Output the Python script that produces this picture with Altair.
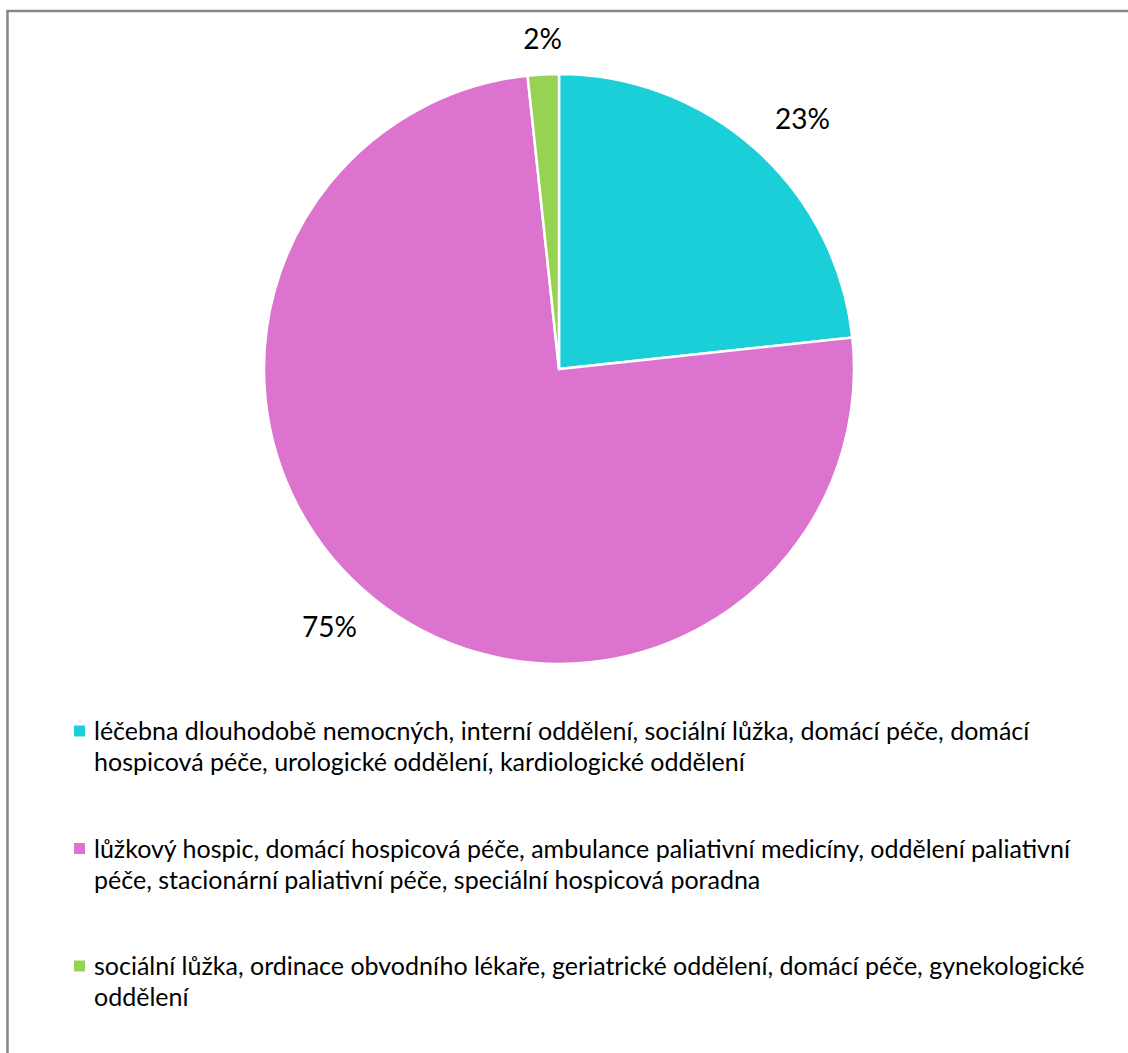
import altair as alt
import pandas as pd

legend_lines = [
    ["léčebna dlouhodobě nemocných, interní oddělení, sociální lůžka, domácí péče, domácí",
     "hospicová péče, urologické oddělení, kardiologické oddělení"],
    ["lůžkový hospic, domácí hospicová péče, ambulance paliativní medicíny, oddělení paliativní",
     "péče, stacionární paliativní péče, speciální hospicová poradna"],
    ["sociální lůžka, ordinace obvodního lékaře, geriatrické oddělení, domácí péče, gynekologické",
     "oddělení"],
]
categories = [" ".join(l) for l in legend_lines]
shares = [23.3, 75.0, 1.7]
colors = ["#1ACFD8", "#DC73CF", "#97D352"]

df = pd.DataFrame({
    "category": categories,
    "label": ["\n".join(l) for l in legend_lines],
    "share": shares,
    "idx": list(range(len(categories))),
})

color_scale = alt.Scale(domain=categories, range=colors)
base = alt.Chart(df)

pie = base.mark_arc(stroke="white", strokeWidth=2.5, radius=295).encode(
    theta=alt.Theta("share:Q", stack=True),
    order=alt.Order("idx:Q"),
    color=alt.Color("category:N", scale=color_scale, legend=None),
    x=alt.value(559),
    y=alt.value(369),
)

labels = base.transform_joinaggregate(
    total="sum(share)"
).transform_window(
    cum="sum(share)", sort=[alt.SortField("idx")], frame=[None, 0]
).transform_calculate(
    mid="(datum.cum - datum.share / 2) / datum.total * 2 * PI + 0.045 * min(1, datum.share / 20)",
    lr="305 + 38 * abs(sin(datum.mid)) + 22 * abs(cos(datum.mid))",
    pct="format(datum.share / 100, '.0%')",
).mark_text(font="Lato", fontSize=28, color="black").encode(
    theta=alt.Theta("mid:Q", scale=None),
    radius=alt.Radius("lr:Q", scale=None),
    text="pct:N",
    x=alt.value(559),
    y=alt.value(369),
)

ypos = alt.Y("idx:O", scale=alt.Scale(type="point", range=[740, 975], padding=0), axis=None)

leg_sq = base.mark_square(size=121, opacity=1, yOffset=-9).encode(
    x=alt.value(79.5),
    y=ypos,
    color=alt.Color("category:N", scale=color_scale, legend=None),
)

leg_text = base.mark_text(
    font="Lato", fontSize=25, align="left", baseline="alphabetic",
    lineBreak="\n", lineHeight=31, color="black"
).encode(
    x=alt.value(94),
    y=ypos,
    text="label:N",
)

one = pd.DataFrame({"a": [0]})
border_left = alt.Chart(one).mark_rule(color="#878787", strokeWidth=2.5).encode(
    x=alt.value(7.5), y=alt.value(10), y2=alt.value(1060)
)
border_top = alt.Chart(one).mark_rule(color="#878787", strokeWidth=2.5).encode(
    x=alt.value(6.5), x2=alt.value(1140), y=alt.value(11)
)

chart = alt.layer(
    border_left, border_top, pie, labels, leg_sq, leg_text
).resolve_scale(
    theta="independent", radius="independent"
).properties(
    width=1128, height=1053, padding=0, autosize="none", background="white"
).configure_view(stroke=None)

chart.save("out.html", embed_options={"renderer": "svg", "actions": False})
